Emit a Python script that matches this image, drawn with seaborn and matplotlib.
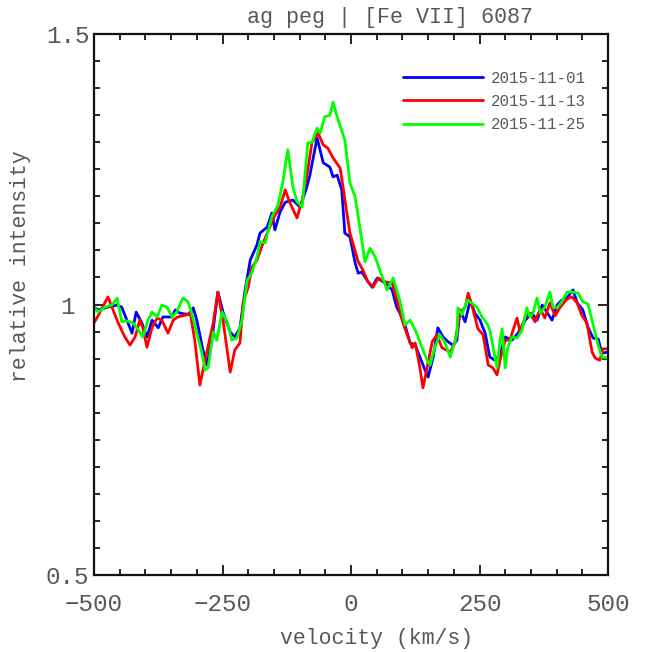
import numpy as np
import pandas as pd
import matplotlib
matplotlib.use("Agg")
import matplotlib.pyplot as plt
from matplotlib.ticker import MultipleLocator, FuncFormatter
import seaborn as sns

# [Fe VII] 6087 profiles of AG Peg, three epochs
dates = ["2015-11-01", "2015-11-13", "2015-11-25"]
colors = ["#0000ff", "#ff0000", "#00ff00"]

vel_1101 = [-500, -492, -473, -455, -446, -436, -426, -418, -407, -397, -387, -375, -366,
            -348, -342, -333, -313, -307, -300, -288, -280, -270, -259, -249, -235, -226,
            -216, -206, -196, -183, -177, -163, -154, -148, -138, -128, -113, -99, -86,
            -80, -66, -54, -41, -35, -27, -18, -12, -2, 8, 14, 21, 31, 41, 51, 66, 80, 89,
            95, 105, 115, 125, 134, 144, 150, 160, 169, 179, 189, 198, 206, 212, 222, 232,
            241, 251, 261, 270, 280, 290, 300, 313, 325, 339, 352, 362, 372, 381, 391, 401,
            410, 420, 432, 440, 451, 461, 471, 481, 488, 500]
int_1101 = [0.995, 0.990, 0.995, 0.999, 0.995, 0.971, 0.947, 0.986, 0.966, 0.940, 0.971,
            0.957, 0.977, 0.977, 0.990, 0.984, 0.981, 0.994, 0.971, 0.916, 0.888, 0.940,
            1.023, 0.986, 0.949, 0.940, 0.957, 1.027, 1.082, 1.110, 1.132, 1.143, 1.169,
            1.138, 1.171, 1.189, 1.193, 1.180, 1.217, 1.239, 1.308, 1.262, 1.254, 1.236,
            1.239, 1.212, 1.132, 1.125, 1.077, 1.058, 1.060, 1.045, 1.032, 1.049, 1.040,
            1.027, 0.995, 0.984, 0.962, 0.929, 0.925, 0.903, 0.879, 0.866, 0.903, 0.957,
            0.940, 0.931, 0.925, 0.934, 0.990, 0.968, 1.008, 0.984, 0.971, 0.947, 0.903,
            0.897, 0.908, 0.940, 0.934, 0.947, 0.971, 0.984, 0.971, 0.999, 0.986, 0.971,
            0.999, 1.008, 1.012, 1.027, 1.003, 0.990, 0.958, 0.938, 0.936, 0.910, 0.912]

vel_1113 = [-500, -492, -473, -463, -453, -440, -430, -420, -411, -405, -397, -387, -377,
            -368, -356, -346, -337, -319, -313, -304, -294, -284, -268, -259, -249, -235,
            -226, -216, -210, -200, -193, -183, -171, -158, -148, -138, -128, -119, -105,
            -95, -84, -76, -64, -54, -45, -35, -21, -8, -2, 14, 23, 33, 43, 53, 66, 80, 91,
            101, 111, 119, 125, 134, 140, 148, 158, 167, 177, 193, 202, 212, 222, 228, 237,
            247, 257, 267, 276, 284, 290, 300, 309, 323, 329, 339, 348, 358, 368, 377, 387,
            397, 407, 420, 430, 440, 449, 459, 469, 475, 484, 490, 500]
int_1113 = [0.966, 0.979, 1.014, 0.990, 0.966, 0.940, 0.925, 0.940, 0.971, 0.957, 0.921,
            0.958, 0.975, 0.971, 0.947, 0.971, 0.977, 0.981, 0.986, 0.934, 0.851, 0.897,
            0.966, 1.023, 0.971, 0.875, 0.916, 0.929, 1.003, 1.032, 1.069, 1.082, 1.114,
            1.143, 1.165, 1.180, 1.212, 1.188, 1.160, 1.193, 1.249, 1.299, 1.317, 1.295,
            1.289, 1.271, 1.252, 1.169, 1.132, 1.079, 1.064, 1.042, 1.032, 1.049, 1.042,
            1.040, 1.003, 0.966, 0.940, 0.920, 0.929, 0.883, 0.846, 0.883, 0.931, 0.944,
            0.920, 0.912, 0.929, 0.984, 0.995, 1.021, 0.992, 0.955, 0.944, 0.888, 0.883,
            0.870, 0.897, 0.934, 0.934, 0.975, 0.949, 0.977, 0.984, 0.968, 0.992, 0.975,
            1.003, 0.979, 0.995, 1.010, 1.014, 1.003, 0.980, 0.966, 0.912, 0.901, 0.897,
            0.918, 0.918]

vel_1125 = [-500, -492, -479, -465, -455, -446, -438, -424, -414, -405, -395, -387, -377,
            -368, -358, -348, -339, -327, -317, -309, -300, -290, -284, -278, -268, -261,
            -251, -241, -232, -222, -212, -202, -193, -183, -177, -167, -154, -142, -132,
            -123, -113, -105, -95, -84, -76, -66, -60, -51, -41, -35, -25, -12, -2, 8, 18,
            27, 37, 47, 56, 70, 82, 95, 105, 115, 125, 138, 148, 154, 163, 173, 183, 193,
            206, 208, 216, 226, 235, 245, 255, 265, 270, 280, 284, 290, 294, 300, 305, 313,
            323, 333, 342, 348, 354, 362, 368, 377, 387, 393, 401, 410, 420, 432, 442, 451,
            461, 469, 479, 488, 498]
int_1125 = [0.995, 0.986, 0.995, 0.999, 1.012, 0.968, 0.970, 0.966, 0.953, 0.940, 0.971,
            0.986, 0.977, 0.999, 0.995, 0.977, 0.986, 1.012, 1.005, 0.981, 0.947, 0.910,
            0.879, 0.883, 0.949, 0.934, 0.986, 0.968, 0.934, 0.938, 0.971, 1.045, 1.058,
            1.088, 1.116, 1.114, 1.162, 1.184, 1.230, 1.286, 1.217, 1.190, 1.180, 1.299,
            1.299, 1.326, 1.317, 1.347, 1.350, 1.374, 1.341, 1.304, 1.225, 1.199, 1.138,
            1.079, 1.104, 1.088, 1.064, 1.027, 1.049, 1.008, 0.962, 0.971, 0.953, 0.921,
            0.897, 0.888, 0.921, 0.944, 0.929, 0.903, 0.944, 0.994, 0.981, 1.008, 1.003,
            0.995, 0.977, 0.964, 0.953, 0.903, 0.883, 0.934, 0.955, 0.883, 0.921, 0.940,
            0.938, 0.953, 0.994, 0.977, 0.984, 1.012, 0.984, 0.995, 1.023, 0.995, 0.994,
            1.005, 1.023, 1.023, 1.021, 1.005, 1.001, 0.971, 0.931, 0.903, 0.901]

x_ticks = [-500, -250, 0, 250, 500]
y_ticks = [0.5, 1.0, 1.5]

frames = []
for d, v, f in zip(dates, [vel_1101, vel_1113, vel_1125], [int_1101, int_1113, int_1125]):
    frames.append(pd.DataFrame({"velocity": v, "intensity": f, "date": d}))
df = pd.concat(frames, ignore_index=True)

sns.set_style("ticks")
plt.rcParams["font.family"] = ["Liberation Mono", "DejaVu Sans Mono"]
text_gray = "#585858"

fig = plt.figure(figsize=(6.49, 6.52), dpi=100)
ax = fig.add_axes([94 / 649, 1 - 575 / 652, 514 / 649, 541 / 652])

sns.lineplot(data=df, x="velocity", y="intensity", hue="date",
             palette=dict(zip(dates, colors)), hue_order=dates,
             estimator=None, sort=False, linewidth=2.0, ax=ax)

ax.set_xlim(-500, 500)
ax.set_ylim(0.5, 1.5)
ax.set_xticks(x_ticks)
ax.set_yticks(y_ticks)
ax.xaxis.set_minor_locator(MultipleLocator(50))
ax.yaxis.set_minor_locator(MultipleLocator(0.05))
ax.yaxis.set_major_formatter(FuncFormatter(lambda v, p: f"{v:g}"))
ax.tick_params(which="both", direction="in", top=True, right=True,
               color="black", width=1.2)
ax.tick_params(which="major", length=7, labelsize=17.5, labelcolor=text_gray)
ax.tick_params(which="minor", length=4)
ax.tick_params(axis="x", which="major", pad=13)
ax.tick_params(axis="y", which="major", pad=19)
for lab in ax.get_yticklabels():
    lab.set_horizontalalignment("center")
for s in ax.spines.values():
    s.set_linewidth(1.6)
    s.set_color("#111111")

ax.set_xlabel("velocity (km/s)", fontsize=15.5, color=text_gray)
ax.set_ylabel("relative intensity", fontsize=15.5, color=text_gray)
ax.xaxis.set_label_coords(0.549, -0.098)
ax.yaxis.set_label_coords(-0.122, 0.571)
ax.text(0.576, 1.012, "ag peg | [Fe VII] 6087", transform=ax.transAxes,
        ha="center", va="bottom", fontsize=15.7, color=text_gray)

leg = ax.legend(loc="upper left", bbox_to_anchor=(0.601, 0.932), frameon=False,
                fontsize=11.3, handlelength=5.1, handletextpad=0.5,
                labelspacing=0.52, borderpad=0, borderaxespad=0, title=None)
for t in leg.get_texts():
    t.set_color(text_gray)
for h in leg.get_lines():
    h.set_linewidth(2)

fig.savefig("out.png", dpi=100, facecolor="white")
